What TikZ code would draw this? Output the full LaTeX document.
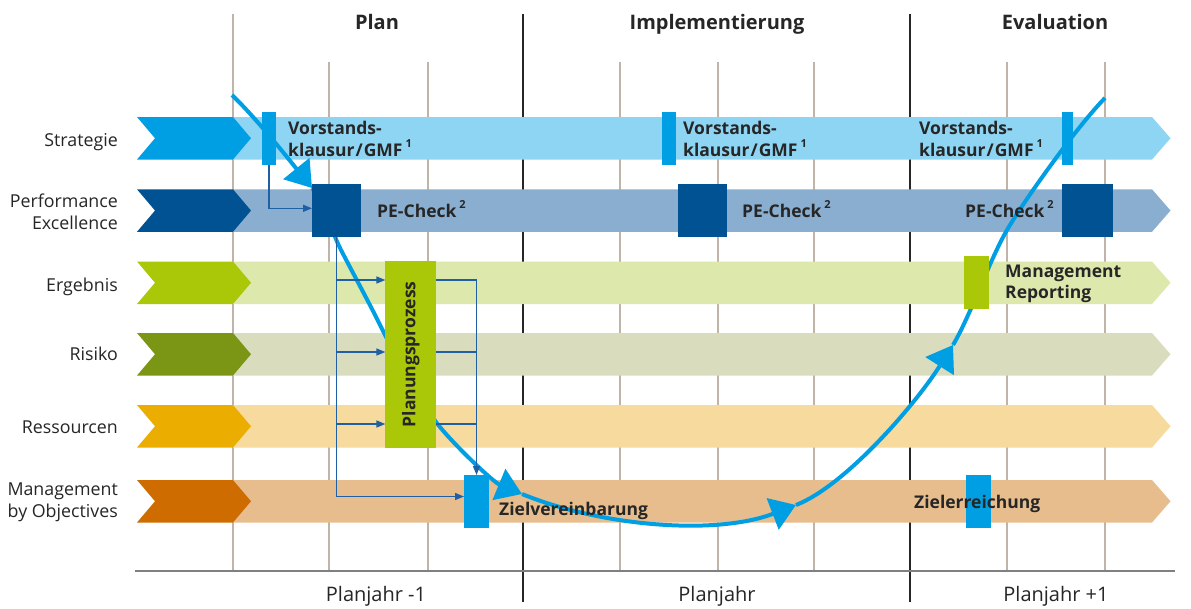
\documentclass[tikz,border=0pt]{standalone}
\usepackage{fontspec}
\setmainfont{Open Sans}
\usetikzlibrary{arrows.meta}
\definecolor{gridc}{HTML}{C0B4A8}
\definecolor{txt}{HTML}{262626}
\definecolor{connc}{HTML}{1F5FA3}
\definecolor{cyan}{HTML}{009FE3}
\definecolor{sC}{HTML}{009FE3}\definecolor{sB}{HTML}{8ED4F3}
\definecolor{peC}{HTML}{005293}\definecolor{peB}{HTML}{8AAED0}
\definecolor{eC}{HTML}{AAC708}\definecolor{eB}{HTML}{DCE8AC}
\definecolor{rC}{HTML}{7A9614}\definecolor{rB}{HTML}{D9DDBD}
\definecolor{resC}{HTML}{EBAD00}\definecolor{resB}{HTML}{F6DA9E}
\definecolor{mC}{HTML}{CE6C00}\definecolor{mB}{HTML}{E8BD8D}
\newcommand{\fnm}[1]{\,\raisebox{0.5em}{\fontsize{11}{11}\selectfont #1}}
\begin{document}
\begin{tikzpicture}[x=1pt,y=-1pt,
  lbl/.style={font=\fontsize{17.8}{22}\selectfont, text=txt, inner sep=0pt},
  bl/.style={font=\bfseries\fontsize{17.5}{21.5}\selectfont, text=txt, inner sep=0pt, align=left},
  hdr/.style={font=\bfseries\fontsize{20}{24}\selectfont, text=txt, inner sep=0pt},
  yr/.style={font=\fontsize{20}{24}\selectfont, text=txt, inner sep=0pt},
  gline/.style={draw=gridc, line width=1.3pt},
  kline/.style={draw=txt, line width=1.2pt},
  mk/.style={inner sep=0pt, outer sep=0pt, draw=none},
  curve/.style={draw=cyan, line width=4pt},
  bigtip/.style={-{Triangle[length=25pt,width=33pt]}},
  conn/.style={draw=connc, line width=1.4pt},
  smalltip/.style={-{Triangle[length=9pt,width=7pt]}}
]
\useasboundingbox (0,0) rectangle (1191,608);
\fill[white] (0,0) rectangle (1191,608);

% grid
\foreach \x in {329,428,620,718,814,1007,1105} \draw[gline] (\x,62) -- (\x,571);
\draw[gline] (233,14) -- (233,571);
\draw[kline] (523,14) -- (523,602);
\draw[kline] (910,14) -- (910,602);
\draw[draw=black!50, line width=2pt] (135,571) -- (1175,571);

% bands and chevrons
\foreach \t/\cc/\bc in {117/sC/sB, 189.3/peC/peB, 261.5/eC/eB, 333/rC/rB, 405/resC/resB, 480/mC/mB} {
  \fill[\bc] (233,\t) -- (1152,\t) -- (1170.5,\t+21.25) -- (1152,\t+42.5) -- (233,\t+42.5) -- cycle;
  \fill[\cc] (137,\t) -- (233,\t) -- (251,\t+21.25) -- (233,\t+42.5) -- (137,\t+42.5) -- (155,\t+21.25) -- cycle;
}

% row labels
\node[lbl, anchor=base east] (lS) at (118,146) {Strategie};
\node[lbl, anchor=east, align=right] (lP) at (118,212) {Performance\\Excellence};
\node[lbl, anchor=base east] (lE) at (118,291) {Ergebnis};
\node[lbl, anchor=base east] (lR) at (118,360) {Risiko};
\node[lbl, anchor=base east] (lRe) at (118,433) {Ressourcen};
\node[lbl, anchor=east, align=right] (lM) at (118,502) {Management\\by Objectives};

% headers and years
\node[hdr, anchor=base] (hP) at (377,29) {Plan};
\node[hdr, anchor=base] (hI) at (717,29) {Implementierung};
\node[hdr, anchor=base] (hE) at (1055,29) {Evaluation};
\node[yr, anchor=base] (y1) at (376,601) {Planjahr -1};
\node[yr, anchor=base] (y2) at (717,601) {Planjahr};
\node[yr, anchor=base] (y3) at (1056,601) {Planjahr +1};

% big cycle curve
\draw[curve,bigtip] (232,95) .. controls (257,119) and (291,162) .. (312,188);
\draw[curve,bigtip] (312,188) .. controls (324,203) and (331.8,232.2) .. (341,250)
   .. controls (355,277) and (372,308) .. (385,335)
   .. controls (398,360) and (422,402) .. (436,422)
   .. controls (451,442) and (493,482) .. (522,494);
\draw[curve,bigtip] (522,494) .. controls (600,526) and (715,536) .. (796,505);
\draw[curve,bigtip] (796,505) .. controls (845,486) and (915,405) .. (953,345);
\draw[curve] (953,345) .. controls (970.5,315.5) and (989.5,260) .. (1007,230)
   .. controls (1024.5,200) and (1077,126.4) .. (1105,98);

% markers
\node[mk, fill=sC, minimum width=13.4pt, minimum height=52.5pt] (sb1) at (269,138.4) {};
\node[mk, fill=sC, minimum width=14pt, minimum height=52.5pt] (sb2) at (669,138.4) {};
\node[mk, fill=sC, minimum width=10.5pt, minimum height=52.5pt] (sb3) at (1067.5,138.4) {};
\node[mk, fill=peC, minimum width=49pt, minimum height=52.7pt] (pe1) at (336.5,210.3) {};
\node[mk, fill=peC, minimum width=49pt, minimum height=52.7pt] (pe2) at (702.5,210.3) {};
\node[mk, fill=peC, minimum width=51pt, minimum height=52.7pt] (pe3) at (1087.5,210.3) {};
\node[mk, fill=eC, minimum width=50.7pt, minimum height=186.7pt] (pp) at (410.7,354.3) {};
\node[mk, fill=eC, minimum width=25pt, minimum height=53.3pt] (mr) at (976.5,282.3) {};
\node[mk, fill=sC, minimum width=25pt, minimum height=53pt] (zv) at (476.5,501.5) {};
\node[mk, fill=sC, minimum width=25pt, minimum height=53.3pt] (ze) at (978.5,501.3) {};

% thin connectors
\coordinate (r3) at (0,280);
\coordinate (r4) at (0,352);
\coordinate (r5) at (0,424);
\draw[conn,smalltip] (sb1.south) |- ([yshift=2pt]pe1.west);
\draw[conn,smalltip] (pe1.south) |- ([yshift=5pt]zv.west);
\draw[conn,smalltip] (pe1.south |- r3) -- (pp.west |- r3);
\draw[conn,smalltip] (pe1.south |- r4) -- (pp.west |- r4);
\draw[conn,smalltip] (pe1.south |- r5) -- (pp.west |- r5);
\draw[conn,smalltip] (pp.east |- r3) -| (zv.north);
\draw[conn] (pp.east |- r4) -- (zv.north |- r4);
\draw[conn] (pp.east |- r5) -- (zv.north |- r5);

% texts in bands
\node[bl, anchor=west] (vk1) at (288,139) {Vorstands-\\klausur\kern1pt/\kern1pt GMF\fnm{1}};
\node[bl, anchor=west] (vk2) at (683,139) {Vorstands-\\klausur\kern1pt/\kern1pt GMF\fnm{1}};
\node[bl, anchor=west] (vk3) at (919,139) {Vorstands-\\klausur\kern1pt/\kern1pt GMF\fnm{1}};
\node[bl, anchor=base west] (pc1) at (377,217) {PE-Check\fnm{2}};
\node[bl, anchor=base west] (pc2) at (742,217) {PE-Check\fnm{2}};
\node[bl, anchor=base west] (pc3) at (965,217) {PE-Check\fnm{2}};
\node[bl, rotate=90] (ppt) at (pp) {Planungsprozess};
\node[bl, anchor=west] (mrt) at (1005,284) {Management\\Reporting};
\node[bl, anchor=base west] (zvt) at (499,515) {Zielvereinbarung};
\node[bl, anchor=base west] (zet) at (914,508) {Zielerreichung};
\end{tikzpicture}
\end{document}
